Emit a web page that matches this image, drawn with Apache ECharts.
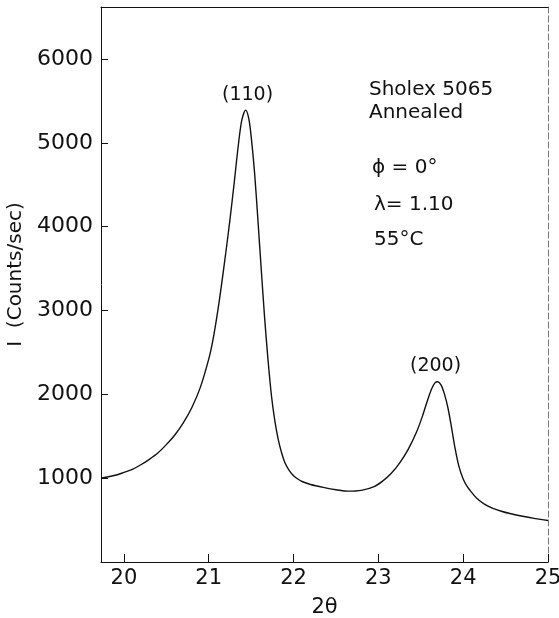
<!DOCTYPE html>
<html>
<head>
<meta charset="utf-8">
<script src="https://cdn.jsdelivr.net/npm/echarts@6/dist/echarts.min.js"></script>
<style>
html,body{margin:0;padding:0;background:#fff;}
#chart{width:559px;height:618px;}
</style>
</head>
<body>
<div id="chart"></div>
<script>
// 2-theta positions (degrees)
var twoTheta = [19.73, 19.9, 20.0, 20.1, 20.2, 20.3, 20.4, 20.5, 20.6, 20.7, 20.8, 20.9, 21.0, 21.05, 21.1, 21.15, 21.2, 21.25, 21.3, 21.35, 21.39, 21.435, 21.47, 21.5, 21.54, 21.58, 21.62, 21.66, 21.70, 21.74, 21.78, 21.82, 21.86, 21.90, 21.95, 22.0, 22.05, 22.1, 22.2, 22.35, 22.5, 22.65, 22.8, 22.95, 23.05, 23.15, 23.25, 23.35, 23.45, 23.52, 23.58, 23.63, 23.67, 23.70, 23.74, 23.78, 23.82, 23.86, 23.90, 23.95, 24.0, 24.05, 24.1, 24.16, 24.25, 24.35, 24.45, 24.55, 24.7, 24.85, 25.0];
// Intensity (counts/sec)
var intensity = [1000, 1035, 1068, 1105, 1160, 1225, 1300, 1400, 1515, 1660, 1840, 2080, 2420, 2650, 2950, 3300, 3680, 4080, 4520, 4980, 5270, 5390, 5300, 5080, 4650, 4080, 3480, 2900, 2400, 1980, 1680, 1460, 1300, 1180, 1090, 1030, 990, 960, 925, 890, 862, 845, 855, 900, 965, 1055, 1180, 1340, 1550, 1740, 1930, 2070, 2140, 2150, 2110, 2000, 1840, 1620, 1380, 1140, 990, 895, 830, 760, 690, 640, 605, 578, 545, 518, 495];
var xTicks = [20, 21, 22, 23, 24, 25];
var yTicks = [1000, 2000, 3000, 4000, 5000, 6000];
var peakLabels = ["(110)", "(200)"];
var infoLines = ["Sholex 5065", "Annealed", "\u03d5 = 0\u00b0", "\u03bb= 1.10", "55\u00b0C"];

var data = twoTheta.map(function (t, i) { return [t, intensity[i]]; });
var font = "DejaVu Sans";
var plain = function (v) { return String(v); };
var chart = echarts.init(document.getElementById('chart'));
chart.setOption({
  animation: false,
  backgroundColor: '#fff',
  grid: { left: 101, right: 11, top: 7, bottom: 56, show: false, outerBoundsMode: 'none', containLabel: false },
  xAxis: [{
    type: 'value', min: 19.73, max: 25,
    name: '2\u03b8', nameLocation: 'middle', nameGap: 35,
    nameTextStyle: { fontFamily: font, fontSize: 21, color: '#111' },
    axisLine: { show: true, onZero: false, lineStyle: { color: '#111', width: 1 } },
    axisTick: { show: true, inside: true, length: 8, customValues: xTicks, lineStyle: { color: '#111' } },
    axisLabel: { customValues: xTicks, formatter: plain, fontFamily: font, fontSize: 21, color: '#111', margin: 6 },
    splitLine: { show: false }
  }, {
    type: 'value', position: 'top', min: 19.73, max: 25,
    axisLine: { show: true, onZero: false, lineStyle: { color: '#111', width: 1 } },
    axisTick: { show: false }, axisLabel: { show: false }, splitLine: { show: false }
  }],
  yAxis: [{
    type: 'value', min: 0, max: 6620,
    name: 'I  (Counts/sec)', nameLocation: 'middle', nameGap: 72, nameRotate: 90,
    nameTextStyle: { fontFamily: font, fontSize: 20, color: '#111', padding: [0, 0, 0, 20] },
    axisLine: { show: true, onZero: false, lineStyle: { color: '#111', width: 1 } },
    axisTick: { show: true, inside: true, length: 7, customValues: yTicks, lineStyle: { color: '#111' } },
    axisLabel: { customValues: yTicks, formatter: plain, fontFamily: font, fontSize: 22, color: '#111', margin: 8 },
    splitLine: { show: false }
  }, {
    type: 'value', position: 'right', min: 0, max: 6620,
    axisLine: { show: true, onZero: false, lineStyle: { color: '#777', width: 1, type: [6, 3] } },
    axisTick: { show: false }, axisLabel: { show: false }, splitLine: { show: false }
  }],
  series: [{
    type: 'line', data: data, smooth: 0.3, showSymbol: false,
    lineStyle: { color: '#111', width: 1.4 },
    silent: true
  }],
  graphic: [
    { type: 'text', left: 222, top: 86, style: { text: peakLabels[0], font: '19px "' + font + '"', fill: '#111' } },
    { type: 'text', left: 410, top: 357, style: { text: peakLabels[1], font: '19px "' + font + '"', fill: '#111' } },
    { type: 'text', left: 369, top: 80, style: { text: infoLines[0], font: '20px "' + font + '"', fill: '#111' } },
    { type: 'text', left: 369, top: 103, style: { text: infoLines[1], font: '20px "' + font + '"', fill: '#111' } },
    { type: 'text', left: 372, top: 158, style: { text: infoLines[2], font: '20px "' + font + '"', fill: '#111' } },
    { type: 'text', left: 374, top: 195, style: { text: infoLines[3], font: '20px "' + font + '"', fill: '#111' } },
    { type: 'text', left: 374, top: 230, style: { text: infoLines[4], font: '20px "' + font + '"', fill: '#111' } }
  ]
});
</script>
</body>
</html>
